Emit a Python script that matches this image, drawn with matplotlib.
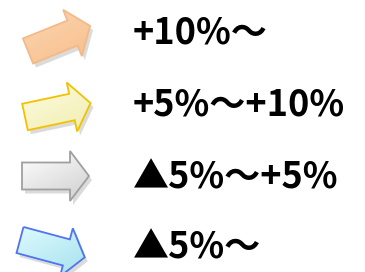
import numpy as np
import matplotlib.pyplot as plt
from matplotlib.patches import Polygon
from matplotlib.colors import LinearSegmentedColormap

plt.rcParams['font.family'] = ['Noto Sans CJK JP', 'DejaVu Sans']

# legend rows
labels = ['+10%～', '+5%～+10%', '▲5%～+5%', '▲5%～']
angles = [22, 12, 0, -15]            # arrow tilt in degrees
tails = [(28, 51), (25, 117), (22, 176), (20, 240)]   # tail centre (px)
fills = [('#FCD6B2', '#F7BE8C'), ('#FDFCE2', '#F1EEB0'),
         ('#FFFFFF', '#CFCFCF'), ('#DDFBFD', '#A6E0EE')]
edges = ['#F3BA88', '#F2C200', '#A0A0A0', '#4F74F0']
text_y = [33, 105, 178, 248]

L, shaft, head, head_len = 67, 13.5, 25, 19
local = np.array([[0, -shaft], [L - head_len, -shaft], [L - head_len, -head],
                  [L, 0], [L - head_len, head], [L - head_len, shaft], [0, shaft]])

fig = plt.figure(figsize=(3.65, 2.72), dpi=100)
ax = fig.add_axes([0, 0, 1, 1])
ax.set_xlim(0, 365)
ax.set_ylim(272, 0)
ax.axis('off')

for (tx, ty), ang, (c1, c2), ec in zip(tails, angles, fills, edges):
    a = np.radians(ang)
    rot = np.array([[np.cos(a), np.sin(a)], [-np.sin(a), np.cos(a)]])
    pts = local @ rot.T + [tx, ty]
    # soft shadow
    ax.add_patch(Polygon(pts + [3, 4], closed=True, fc='#8A8A8A', ec='none', alpha=0.3))
    ax.add_patch(Polygon(pts, closed=True, fc='none', ec=ec, lw=1.3, zorder=3))
    cmap = LinearSegmentedColormap.from_list('g', [c1, c2])
    x0, x1 = pts[:, 0].min(), pts[:, 0].max()
    y0, y1 = pts[:, 1].min(), pts[:, 1].max()
    grad = np.linspace(0, 1, 64).reshape(-1, 1) * 0.6 + np.linspace(0, 1, 64).reshape(1, -1) * 0.4
    im = ax.imshow(grad, cmap=cmap, extent=(x0, x1, y1, y0), aspect='auto',
                   zorder=2, interpolation='bilinear')
    im.set_clip_path(Polygon(pts, closed=True, transform=ax.transData))

for lab, y in zip(labels, text_y):
    ax.text(133, y, lab, fontsize=26, fontweight='bold', va='center', ha='left')

ax.set_xlim(0, 365)
ax.set_ylim(272, 0)
fig.savefig('out.png', dpi=100)
